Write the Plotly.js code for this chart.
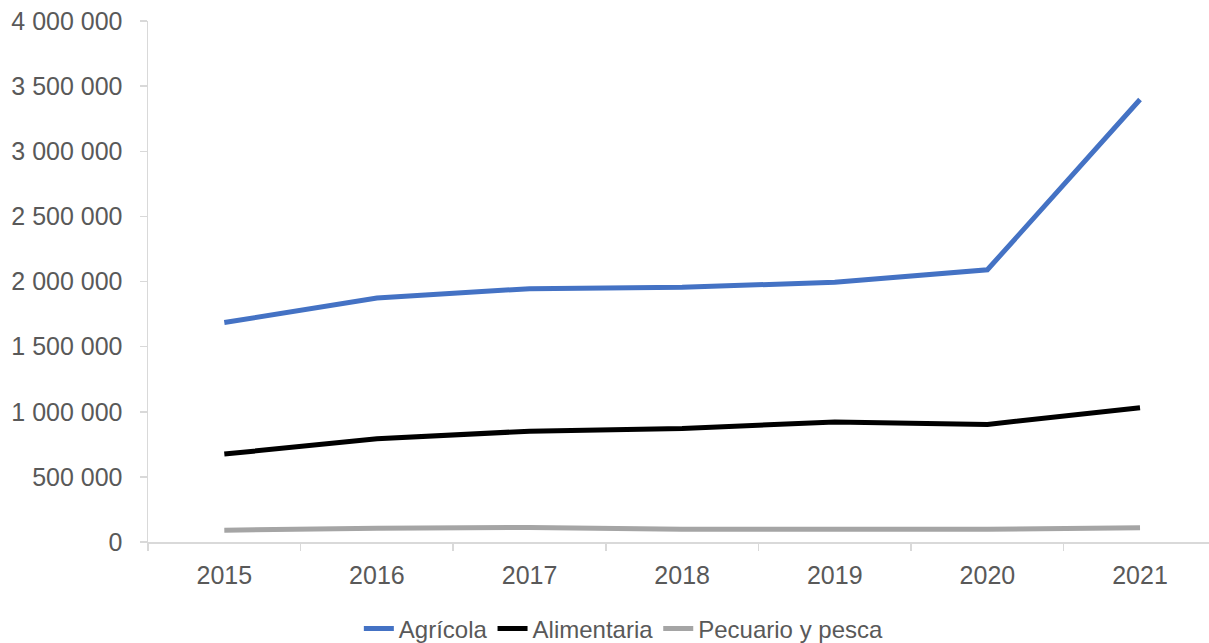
<!DOCTYPE html>
<html>
<head>
<meta charset="utf-8">
<script src="https://cdn.plot.ly/plotly-3.0.1.min.js"></script>
<style>html,body{margin:0;padding:0;background:#fff;}#chart{width:1209px;height:643px;}</style>
</head>
<body>
<div id="chart"></div>
<script>
const years = ["2015", "2016", "2017", "2018", "2019", "2020", "2021"];
const agricola = [1685000, 1873000, 1945000, 1955000, 1995000, 2090000, 3397000];
const alimentaria = [675000, 793000, 851000, 872000, 922000, 903000, 1031000];
const pecuario = [90000, 106000, 112000, 98000, 98000, 98000, 110000];
const seriesNames = ["Agrícola", "Alimentaria", "Pecuario y pesca"];
const seriesColors = ["#4472C4", "#000000", "#A5A5A5"];
const seriesValues = [agricola, alimentaria, pecuario];

const traces = seriesValues.map((vals, i) => ({
  type: "scatter",
  mode: "lines",
  x: years,
  y: vals,
  name: seriesNames[i],
  line: {color: seriesColors[i], width: 5}
}));

const tickFont = {family: "Liberation Sans, Arial, sans-serif", size: 25, color: "#595959"};

const layout = {
  width: 1209,
  height: 643,
  margin: {l: 148, r: 0, t: 21, b: 101},
  paper_bgcolor: "#ffffff",
  plot_bgcolor: "#ffffff",
  separators: ", ",
  showlegend: true,
  font: {family: "Liberation Sans, Arial, sans-serif", size: 20, color: "#595959"},
  xaxis: {
    type: "category",
    range: [-0.5, 6.452],
    showline: true,
    linecolor: "#d9d9d9",
    linewidth: 1.5,
    showgrid: false,
    zeroline: false,
    ticks: "outside",
    tickson: "boundaries",
    ticklen: 7,
    tickcolor: "#d9d9d9",
    tickwidth: 1.5,
    ticklabelstandoff: 10,
    tickfont: tickFont
  },
  yaxis: {
    range: [0, 4000000],
    dtick: 500000,
    tick0: 0,
    tickformat: ",d",
    showline: true,
    linecolor: "#d9d9d9",
    linewidth: 1.5,
    showgrid: false,
    zeroline: false,
    ticks: "outside",
    ticklen: 7,
    tickcolor: "#d9d9d9",
    tickwidth: 1.5,
    ticklabelstandoff: 12,
    tickfont: tickFont
  },
  legend: {
    orientation: "h",
    xref: "container",
    yref: "container",
    x: 0.516,
    xanchor: "center",
    y: 0.022,
    yanchor: "middle",
    font: {family: "Liberation Sans, Arial, sans-serif", size: 24, color: "#595959"},
    tracegroupgap: 0
  }
};

Plotly.newPlot("chart", traces, layout, {displayModeBar: false, staticPlot: true});
</script>
</body>
</html>
